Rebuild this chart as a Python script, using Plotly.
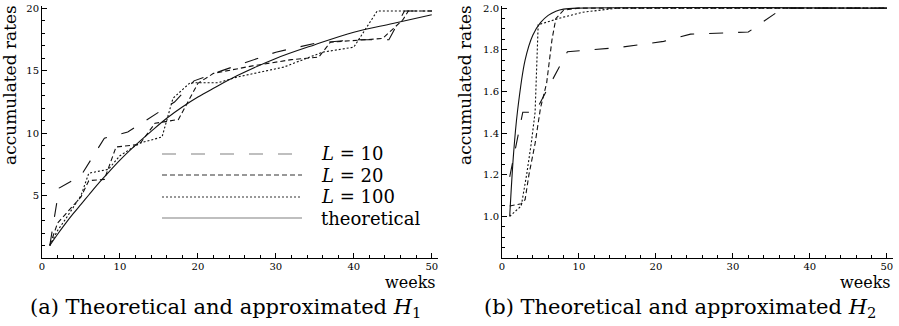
import plotly.graph_objects as go

# ---------------- data ----------------
# (a) H1
h1_theory_x = [1, 2, 3, 4, 5, 6, 7, 8, 10, 12, 14, 16, 18, 20, 22, 25, 30, 35, 40, 45, 50]
h1_theory_y = [1, 1.9, 2.75, 3.55, 4.3, 5.05, 5.8, 6.5, 7.85, 9.05, 10.15, 11.2, 12.1, 12.9,
               13.6, 14.6, 16.0, 17.1, 18.1, 18.8, 19.5]
h1_l10_x = [1, 2.2, 5, 8, 11, 17, 19.5, 23, 30, 35, 40, 44.5, 46.5, 50]
h1_l10_y = [1, 5.6, 6.6, 9.6, 10.1, 12.5, 14.2, 15.0, 16.5, 17.2, 17.5, 17.5, 19.8, 19.8]
h1_l20_x = [1, 2, 3, 4, 5, 6, 8, 9.5, 12.5, 14.5, 17.5, 20, 22, 27, 32, 35.5, 37, 43.7, 46.3, 47, 50]
h1_l20_y = [1, 2.8, 3.5, 4.2, 4.9, 6.2, 6.3, 8.9, 9.1, 10.8, 11.1, 14.0, 14.8, 15.4, 15.9,
            16.1, 17.3, 17.6, 19.1, 19.8, 19.8]
h1_l100_x = [1, 2, 3, 4, 5, 6, 8.5, 10, 12.5, 15.4, 16.8, 19, 22.6, 25, 31, 36, 40, 43, 50]
h1_l100_y = [1, 2.2, 3.1, 4.0, 5.0, 6.8, 7.1, 8.2, 9.2, 9.7, 12.8, 14.05, 14.05, 14.5, 15.3,
             16.5, 16.9, 19.8, 19.8]

# (b) H2
h2_theory_x = [1, 1.5, 2, 3, 4, 5, 6, 7, 8, 10, 50]
h2_theory_y = [1.0, 1.3, 1.5, 1.75, 1.87, 1.93, 1.965, 1.985, 1.995, 2.0, 2.0]
h2_l10_x = [1, 2.7, 4.3, 8.5, 15, 21, 24.5, 32, 36.5, 50]
h2_l10_y = [1.19, 1.5, 1.5, 1.79, 1.81, 1.84, 1.875, 1.885, 2.0, 2.0]
h2_l20_x = [1, 2.5, 3, 3.5, 4.3, 5, 5.8, 6.5, 7, 8, 10, 50]
h2_l20_y = [1.05, 1.06, 1.08, 1.2, 1.35, 1.52, 1.64, 1.85, 1.95, 1.99, 2.0, 2.0]
h2_l100_x = [1, 2.5, 3.2, 3.8, 4.3, 4.7, 7.8, 10.5, 15, 50]
h2_l100_y = [1.0, 1.05, 1.2, 1.35, 1.5, 1.92, 1.955, 1.98, 2.0, 2.0]

legend_labels = ["<i>L</i> = 10", "<i>L</i> = 20", "<i>L</i> = 100", "theoretical"]
captions = ["(a) Theoretical and approximated <i>H</i><sub>1</sub>",
            "(b) Theoretical and approximated <i>H</i><sub>2</sub>"]
y_title = "accumulated rates"
x_title = "weeks"
x_ticks = [0, 10, 20, 30, 40, 50]
h1_yticks = [5, 10, 15, 20]
h2_yticks = [1.0, 1.2, 1.4, 1.6, 1.8, 2.0]

# ---------------- figure ----------------
W, H = 899, 326
FONT = "DejaVu Serif"
INK = "#111111"


def px(x):
    return x / W


def py(y):
    return 1 - y / H


dashes = ["14px,15px", "5px,3px", "2px,2px", "solid"]

fig = go.Figure()

series = [
    ("x", "y", h1_l10_x, h1_l10_y, dashes[0], "linear"),
    ("x", "y", h1_l20_x, h1_l20_y, dashes[1], "linear"),
    ("x", "y", h1_l100_x, h1_l100_y, dashes[2], "linear"),
    ("x", "y", h1_theory_x, h1_theory_y, dashes[3], "spline"),
    ("x2", "y2", h2_l10_x, h2_l10_y, dashes[0], "linear"),
    ("x2", "y2", h2_l20_x, h2_l20_y, dashes[1], "linear"),
    ("x2", "y2", h2_l100_x, h2_l100_y, dashes[2], "linear"),
    ("x2", "y2", h2_theory_x, h2_theory_y, dashes[3], "spline"),
]
for xa, ya, xs, ys, dash, shape in series:
    fig.add_trace(go.Scatter(x=xs, y=ys, xaxis=xa, yaxis=ya, mode="lines",
                             line=dict(color=INK, width=1.1, dash=dash, shape=shape),
                             showlegend=False, hoverinfo="skip", cliponaxis=False))

axis_common = dict(showline=True, linecolor="black", linewidth=1, mirror=False,
                   showgrid=False, zeroline=False, ticks="inside", ticklen=5,
                   tickcolor="black", tickwidth=1, automargin=False,
                   ticklabeloverflow="allow",
                   tickfont=dict(family=FONT, size=10, color="black"))

fig.update_layout(
    template="none",
    width=W, height=H,
    margin=dict(l=0, r=0, t=0, b=0, pad=0),
    paper_bgcolor="white", plot_bgcolor="white",
    showlegend=False,
    xaxis=dict(domain=[px(42), px(438)], range=[0, 50.8], anchor="y",
               tickvals=x_ticks, ticklabelstandoff=-1,
               minor=dict(ticks="inside", dtick=2, ticklen=3, tickcolor="black"),
               **axis_common),
    yaxis=dict(domain=[py(258), py(6)], range=[0, 20.2], anchor="x",
               tickvals=h1_yticks,
               minor=dict(ticks="inside", dtick=1, ticklen=3, tickcolor="black"),
               **axis_common),
    xaxis2=dict(domain=[px(502), px(893)], range=[0, 50.8], anchor="y2",
                tickvals=x_ticks, ticklabelstandoff=-1,
                minor=dict(ticks="inside", dtick=2, ticklen=3, tickcolor="black"),
                **axis_common),
    yaxis2=dict(domain=[py(258), py(6)], range=[0.8, 2.01], anchor="x2",
                tickvals=h2_yticks, tickformat=".1f",
                minor=dict(ticks="inside", dtick=0.05, ticklen=3, tickcolor="black"),
                **axis_common),
)

annotations = []
# y-axis titles (at top of axes, Mathematica style)
for xc in (10, 465):
    annotations.append(dict(text=y_title, xref="paper", yref="paper", x=px(xc), y=py(3),
                            xanchor="center", yanchor="top", textangle=-90, showarrow=False,
                            font=dict(family=FONT, size=17, color="black")))
# x-axis titles
for xr in (438, 893):
    annotations.append(dict(text=x_title, xref="paper", yref="paper", x=px(xr), y=py(282),
                            xanchor="right", yanchor="middle", showarrow=False,
                            font=dict(family=FONT, size=16, color="black")))
# captions
for xc, cap in zip((226, 680), captions):
    annotations.append(dict(text=cap, xref="paper", yref="paper", x=px(xc), y=py(308),
                            xanchor="center", yanchor="middle", showarrow=False,
                            font=dict(family=FONT, size=21, color="black")))

# legend inside panel (a)
rows = [154, 175, 197, 218]
sample_colors = ["#808080", "#333333", "#333333", "#808080"]
shapes = []
for r, lab, dash, col in zip(rows, legend_labels, dashes, sample_colors):
    shapes.append(dict(type="line", xref="paper", yref="paper",
                       x0=px(162), x1=px(302), y0=py(r), y1=py(r),
                       line=dict(color=col, width=1.1, dash=dash)))
    annotations.append(dict(text=lab, xref="paper", yref="paper", x=px(319), y=py(r),
                            xanchor="left", yanchor="middle", showarrow=False,
                            font=dict(family=FONT, size=18, color="black")))

fig.update_layout(annotations=annotations, shapes=shapes)

# remove the browser's default 8px body margin so the figure fills the window
fig.write_html("out.html",
               config={"displayModeBar": False, "staticPlot": True},
               post_script="document.body.style.margin='0';document.body.style.overflow='hidden';")
